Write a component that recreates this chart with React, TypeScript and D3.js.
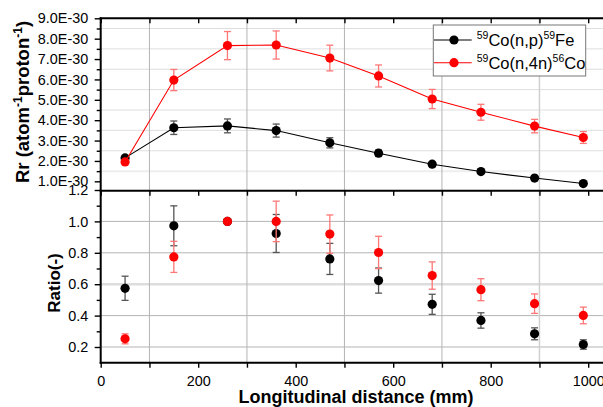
import { useEffect, useRef } from "react";
import * as d3 from "d3";

// longitudinal position of each foil (mm)
const distance = [50, 150, 260, 360, 470, 570, 680, 780, 890, 990];

// reaction rates, in units of 1E-30 atom^-1 proton^-1
const rrFe = [2.15, 3.63, 3.72, 3.49, 2.89, 2.38, 1.84, 1.48, 1.16, 0.89];
const rrFeErr = [0.1, 0.33, 0.34, 0.32, 0.25, 0.16, 0.1, 0.08, 0.07, 0.06];
const rrCo = [1.95, 5.97, 7.66, 7.69, 7.05, 6.17, 5.04, 4.39, 3.71, 3.15];
const rrCoErr = [0.1, 0.52, 0.69, 0.69, 0.63, 0.54, 0.47, 0.39, 0.33, 0.29];

// ratio (-)
const ratioFe = [0.574, 0.972, 1.0, 0.923, 0.761, 0.623, 0.472, 0.369, 0.284, 0.216];
const ratioFeErr = [0.077, 0.127, 0, 0.121, 0.099, 0.08, 0.064, 0.049, 0.038, 0.03];
const ratioCo = [0.252, 0.774, 1.0, 1.0, 0.919, 0.802, 0.655, 0.565, 0.476, 0.401];
const ratioCoErr = [0.032, 0.099, 0, 0.129, 0.122, 0.103, 0.087, 0.07, 0.062, 0.053];

// ticks
const xTicks = [0, 100, 200, 300, 400, 500, 600, 700, 800, 900, 1000];
const xLabelTicks = [0, 200, 400, 600, 800, 1000];
const xGrid = [100, 300, 500, 700, 900];
const topTicks = [1, 2, 3, 4, 5, 6, 7, 8, 9];
const topMinor = [1.5, 2.5, 3.5, 4.5, 5.5, 6.5, 7.5, 8.5];
const botTicks = [0.2, 0.4, 0.6, 0.8, 1.0, 1.2];
const botMinor = [0.3, 0.5, 0.7, 0.9, 1.1];

const FONT = "'Liberation Sans', Arial, sans-serif";

export default function App() {
  const svgRef = useRef(null);

  useEffect(() => {
    const width = 603;
    const height = 407;
    const left = 100.7;
    const right = 603;
    const topY0 = 18.3;
    const midY = 190.7;
    const botY1 = 362.7;

    const svg = d3.select(svgRef.current);
    svg.selectAll("*").remove();
    svg.attr("width", width).attr("height", height).style("font-family", FONT);

    const x = d3.scaleLinear().domain([0, 1000]).range([left, 588.2]);
    const yTop = d3.scaleLinear().domain([0.54, 9.0]).range([midY, topY0]);
    const yBot = d3.scaleLinear().domain([0.1, 1.2]).range([botY1, midY - 0.7]);

    // grid
    const grid = svg.append("g");
    grid
      .selectAll(".hgt")
      .data(topMinor)
      .enter()
      .append("line")
      .attr("x1", left)
      .attr("x2", right)
      .attr("y1", (d) => yTop(d))
      .attr("y2", (d) => yTop(d))
      .attr("stroke", (d) => (d === 1.5 ? "#eeeeee" : "#dedede"))
      .attr("stroke-width", (d) => (d === 1.5 ? 2 : 1));
    grid
      .selectAll(".hgb")
      .data([0.2, 0.4, 0.6, 0.8, 1.0])
      .enter()
      .append("line")
      .attr("x1", left)
      .attr("x2", right)
      .attr("y1", (d) => yBot(d))
      .attr("y2", (d) => yBot(d))
      .attr("stroke", (d) => (d === 0.6 ? "#dddddd" : "#b4b4b4"))
      .attr("stroke-width", (d) => (d === 0.6 ? 2.5 : 1));
    grid
      .selectAll(".vg")
      .data(xGrid)
      .enter()
      .append("line")
      .attr("x1", (d) => x(d))
      .attr("x2", (d) => x(d))
      .attr("y1", topY0)
      .attr("y2", botY1)
      .attr("stroke", (d) => (d === 900 ? "#cfcfcf" : "#b4b4b4"))
      .attr("stroke-width", (d) => (d === 900 ? 1.5 : 1));

    const drawSeries = (g, ys, errs, yScale, color, errColor, withLine) => {
      const pts = distance.map((d, i) => [x(d), yScale(ys[i])]);
      if (withLine) {
        g.append("path")
          .attr("d", d3.line()(pts))
          .attr("fill", "none")
          .attr("stroke", color)
          .attr("stroke-width", 1.1);
      }
      distance.forEach((d, i) => {
        if (!errs[i]) return;
        const cx = x(d);
        const y1 = yScale(ys[i] + errs[i]);
        const y2 = yScale(ys[i] - errs[i]);
        const e = g.append("g").attr("stroke", errColor).attr("stroke-width", 1.3);
        e.append("line").attr("x1", cx).attr("x2", cx).attr("y1", y1).attr("y2", y2);
        e.append("line").attr("x1", cx - 3.5).attr("x2", cx + 3.5).attr("y1", y1).attr("y2", y1);
        e.append("line").attr("x1", cx - 3.5).attr("x2", cx + 3.5).attr("y1", y2).attr("y2", y2);
      });
      g.selectAll("circle")
        .data(pts)
        .enter()
        .append("circle")
        .attr("cx", (p) => p[0])
        .attr("cy", (p) => p[1])
        .attr("r", 4.6)
        .attr("fill", color);
    };

    drawSeries(svg.append("g"), rrFe, rrFeErr, yTop, "#000000", "#555555", true);
    drawSeries(svg.append("g"), rrCo, rrCoErr, yTop, "#ff0000", "#ff7777", true);
    drawSeries(svg.append("g"), ratioFe, ratioFeErr, yBot, "#000000", "#555555", false);
    drawSeries(svg.append("g"), ratioCo, ratioCoErr, yBot, "#ff0000", "#ff7777", false);

    // axes lines
    const frame = svg.append("g").attr("stroke", "#000").attr("stroke-width", 2);
    frame.append("line").attr("x1", left).attr("x2", left).attr("y1", topY0 - 1).attr("y2", botY1 + 1);
    [topY0, midY, botY1].forEach((yy) => {
      frame.append("line").attr("x1", left - 1).attr("x2", right).attr("y1", yy).attr("y2", yy);
    });

    const styleAxis = (g) => {
      g.select(".domain").remove();
      g.selectAll(".tick line").attr("stroke", "#000").attr("stroke-width", 1.4);
      g.selectAll("text").attr("fill", "#000").style("font-size", "14.4px").style("font-family", FONT);
    };

    // x ticks: bottom with labels, top and middle inward
    svg
      .append("g")
      .attr("transform", `translate(0,${botY1})`)
      .call(
        d3.axisBottom(x).tickValues(xTicks).tickSize(5).tickPadding(8.5)
          .tickFormat((d) => (xLabelTicks.includes(d) ? String(d) : ""))
      )
      .call(styleAxis);
    [topY0, midY].forEach((yy) => {
      svg
        .append("g")
        .attr("transform", `translate(0,${yy})`)
        .call(d3.axisBottom(x).tickValues(xTicks).tickSize(5).tickFormat(() => ""))
        .call(styleAxis);
    });

    // y ticks
    svg
      .append("g")
      .attr("transform", `translate(${left},0)`)
      .call(d3.axisLeft(yTop).tickValues(topTicks).tickSize(6).tickPadding(6.5).tickFormat((d) => `${d.toFixed(1)}E-30`))
      .call(styleAxis);
    svg
      .append("g")
      .attr("transform", `translate(${left},0)`)
      .call(d3.axisLeft(yTop).tickValues(topMinor).tickSize(4).tickFormat(() => ""))
      .call(styleAxis);
    svg
      .append("g")
      .attr("transform", `translate(${left},0)`)
      .call(d3.axisLeft(yBot).tickValues(botTicks).tickSize(6).tickPadding(6.5).tickFormat(d3.format(".1f")))
      .call(styleAxis);
    svg
      .append("g")
      .attr("transform", `translate(${left},0)`)
      .call(d3.axisLeft(yBot).tickValues(botMinor).tickSize(4).tickFormat(() => ""))
      .call(styleAxis);

    // titles
    const rr = svg
      .append("text")
      .attr("transform", "translate(23,102) rotate(-90)")
      .attr("text-anchor", "middle")
      .attr("dy", "0.35em")
      .style("font-size", "18.5px")
      .style("font-weight", "bold");
    rr.append("tspan").text("Rr (atom");
    rr.append("tspan").attr("dy", -7).style("font-size", "12px").text("-1");
    rr.append("tspan").attr("dy", 7).text("proton");
    rr.append("tspan").attr("dy", -7).style("font-size", "12px").text("-1");
    rr.append("tspan").attr("dy", 7).text(")");

    svg
      .append("text")
      .attr("transform", "translate(54,283) rotate(-90)")
      .attr("text-anchor", "middle")
      .attr("dy", "0.35em")
      .style("font-size", "17px")
      .style("font-weight", "bold")
      .text("Ratio(-)");

    svg
      .append("text")
      .attr("x", 356)
      .attr("y", 403)
      .attr("text-anchor", "middle")
      .style("font-size", "18px")
      .style("font-weight", "bold")
      .text("Longitudinal distance (mm)");

    // legend
    const lg = svg.append("g");
    lg.append("rect")
      .attr("x", 433.3)
      .attr("y", 25)
      .attr("width", 152.4)
      .attr("height", 51)
      .attr("fill", "#fff")
      .attr("stroke", "#777")
      .attr("stroke-width", 1);
    const items = [
      { color: "#000", a: "59", b: "Co(n,p)", c: "59", d: "Fe", y: 40 },
      { color: "#ff0000", a: "59", b: "Co(n,4n)", c: "56", d: "Co", y: 62.7 },
    ];
    items.forEach((it) => {
      lg.append("line")
        .attr("x1", 434)
        .attr("x2", 471.7)
        .attr("y1", it.y)
        .attr("y2", it.y)
        .attr("stroke", it.color)
        .attr("stroke-width", 1.1);
      lg.append("circle").attr("cx", 454).attr("cy", it.y).attr("r", 4.6).attr("fill", it.color);
      const t = lg
        .append("text")
        .attr("x", 476.7)
        .attr("y", it.y + 6)
        .style("font-size", "16.5px");
      t.append("tspan").attr("dy", -7).style("font-size", "10.5px").text(it.a);
      t.append("tspan").attr("dy", 7).text(it.b);
      t.append("tspan").attr("dy", -7).style("font-size", "10.5px").text(it.c);
      t.append("tspan").attr("dy", 7).text(it.d);
    });
  }, []);

  return <svg ref={svgRef} style={{ position: "absolute", left: 0, top: 0 }}></svg>;
}
